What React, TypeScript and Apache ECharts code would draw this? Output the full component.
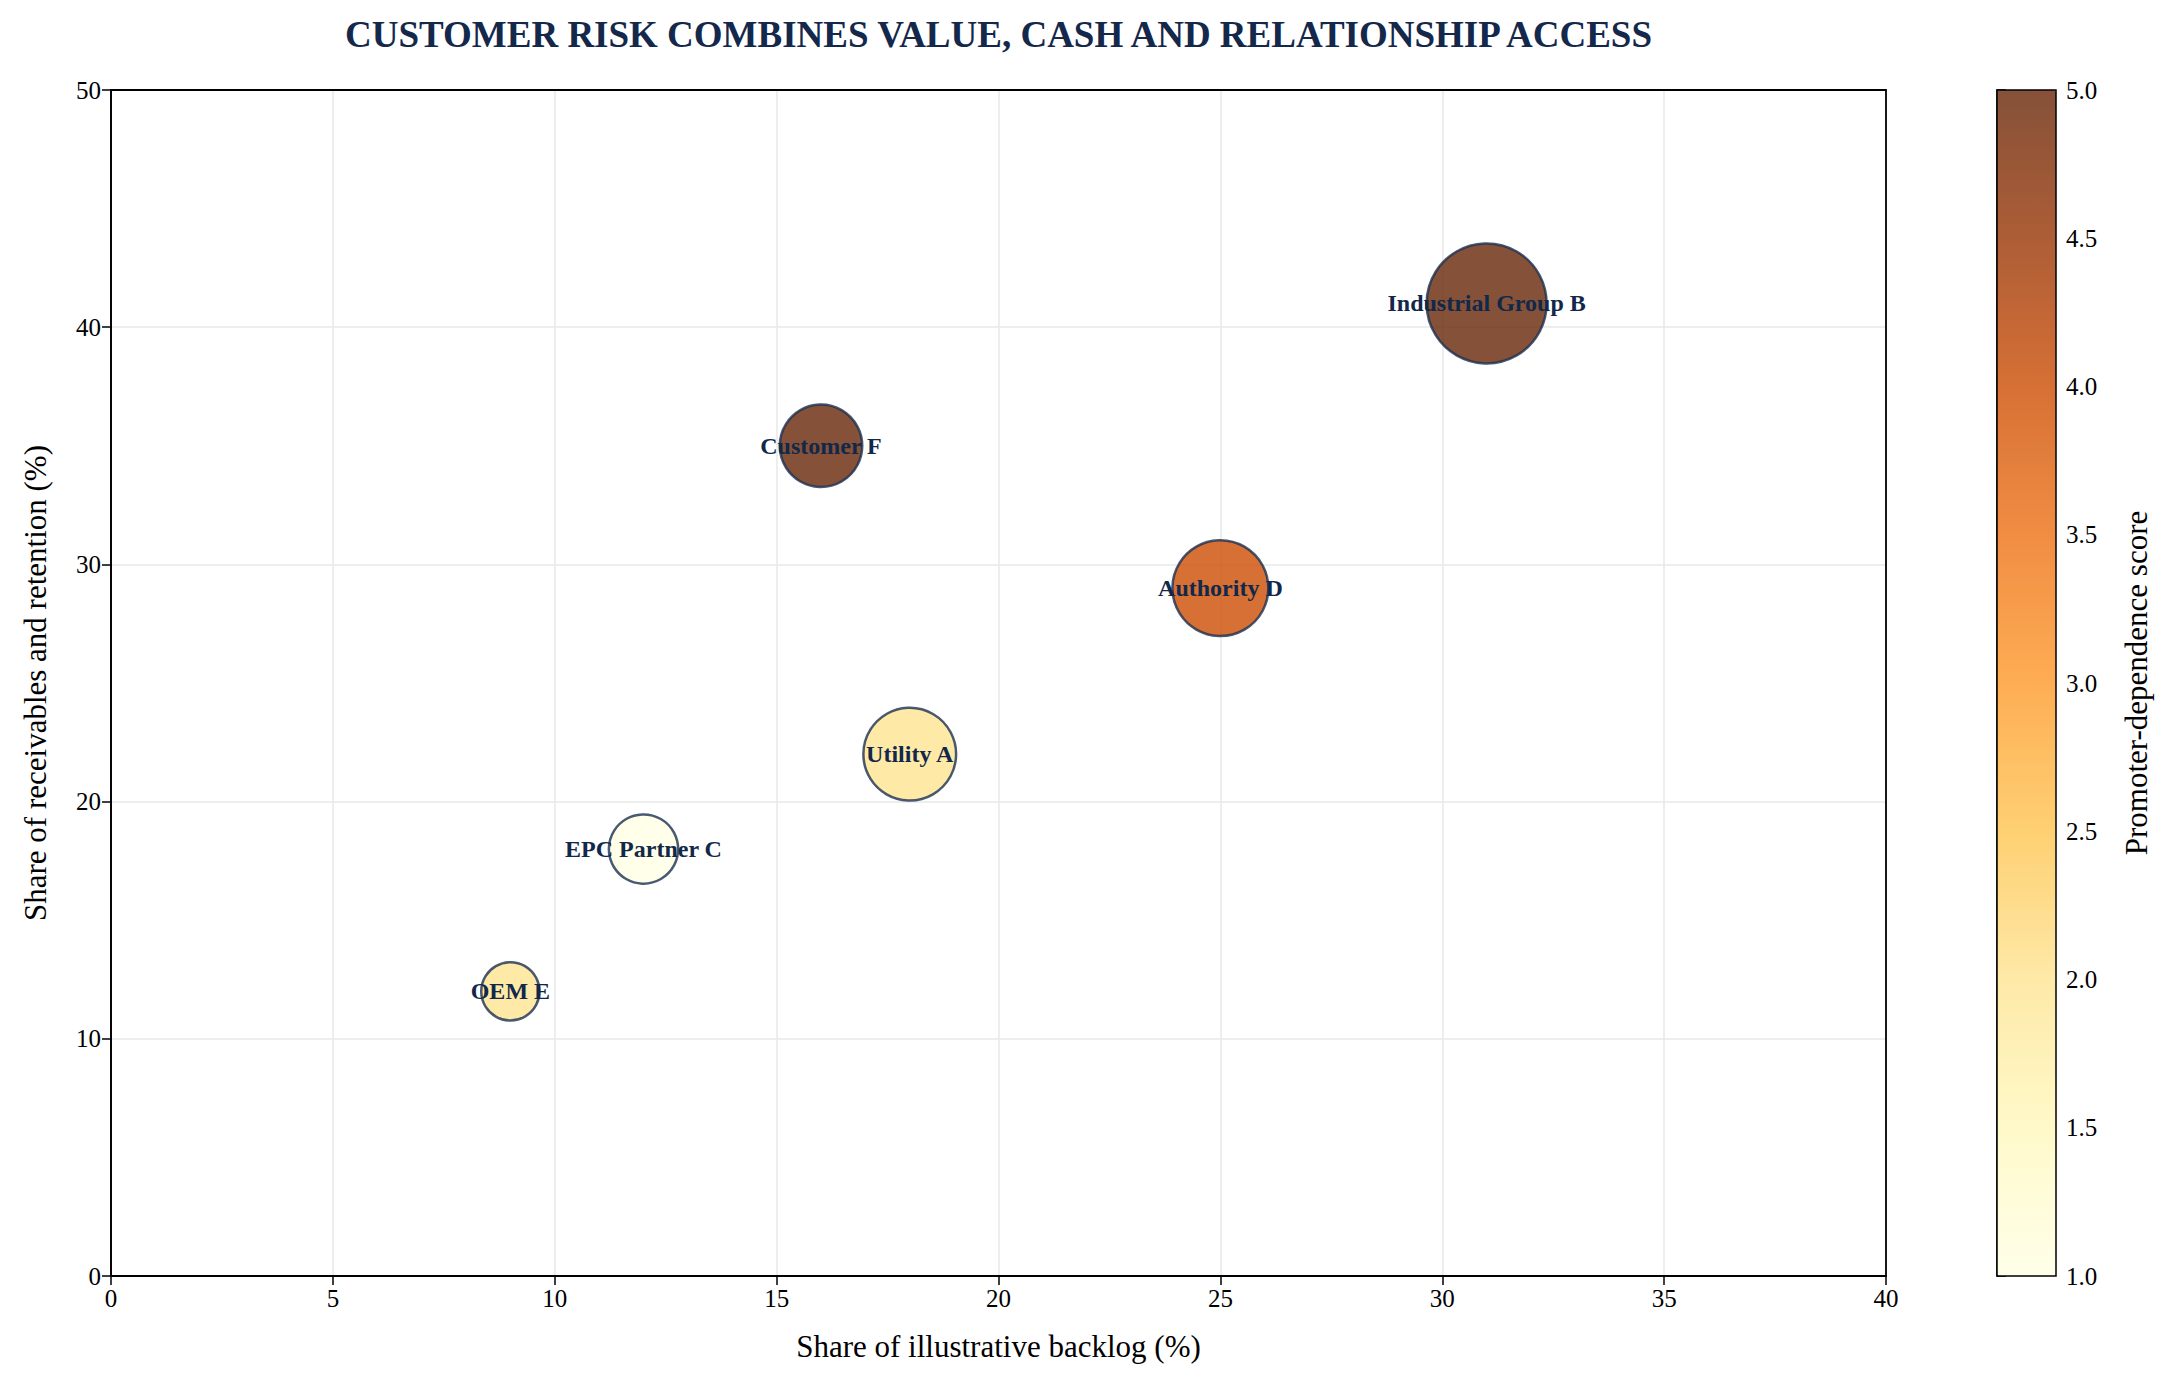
import React, { useEffect, useRef } from "react";
import * as echarts from "echarts";

// ---- data ----
const customers = ["Utility A", "Industrial Group B", "EPC Partner C", "Authority D", "OEM E", "Customer F"];
const backlogShare = [18, 31, 12, 25, 9, 16]; // x, %
const receivablesShare = [22, 41, 18, 29, 12, 35]; // y, %
const promoterScore = [2, 5, 1, 4, 2, 5]; // colour
const relationshipWeight = [21.5, 36, 12, 23, 8.5, 17]; // bubble area
const xTicks = [0, 5, 10, 15, 20, 25, 30, 35, 40];
const yTicks = [0, 10, 20, 30, 40, 50];
const scoreTicks = [1, 1.5, 2, 2.5, 3, 3.5, 4, 4.5, 5];

const TITLE = "CUSTOMER RISK COMBINES VALUE, CASH AND RELATIONSHIP ACCESS";
const X_NAME = "Share of illustrative backlog (%)";
const Y_NAME = "Share of receivables and retention (%)";
const CB_NAME = "Promoter-dependence score";

const YLORBR = ["#ffffe5", "#fff7bc", "#fee391", "#fec44f", "#fe9929", "#ec7014", "#cc4c02", "#993404", "#662506"];
const YLORBR_A80 = ["#FFFFEA", "#FFF9C9", "#FEE9A7", "#FED072", "#FEAD54", "#F08D43", "#D67035", "#AD5D36", "#855138"];

const FONT = "'Liberation Serif', 'Times New Roman', serif";

export default function App() {
  const ref = useRef<HTMLDivElement>(null);
  useEffect(() => {
    if (!ref.current) return;
    const chart = echarts.init(ref.current, undefined, { renderer: "svg" });
    const data = customers.map((name, i) => ({
      name,
      value: [backlogShare[i], receivablesShare[i], promoterScore[i], relationshipWeight[i]],
    }));
    const plotL = 111, plotT = 90, plotR = 1886, plotB = 1276;
    const cbL = 1997, cbW = 59;
    chart.setOption({
      animation: false,
      backgroundColor: "#ffffff",
      textStyle: { fontFamily: FONT },
      title: {
        text: TITLE,
        left: (plotL + plotR) / 2,
        top: 16,
        textAlign: "center",
        padding: 0,
        textStyle: { fontFamily: FONT, fontWeight: "bold", fontSize: 37, color: "#14284b" },
      },
      grid: [
        { left: plotL, top: plotT, width: plotR - plotL, height: plotB - plotT, show: false },
        { left: cbL, top: plotT, width: cbW, height: plotB - plotT, show: false },
      ],
      xAxis: [
        {
          type: "value", gridIndex: 0, min: xTicks[0], max: xTicks[xTicks.length - 1], interval: 5,
          name: X_NAME, nameLocation: "middle", nameGap: 55,
          nameTextStyle: { fontFamily: FONT, fontSize: 31, color: "#000" },
          axisLine: { show: true, onZero: false, lineStyle: { color: "#000", width: 1.5 } },
          axisTick: { show: true, length: 9, lineStyle: { color: "#000", width: 1.5 } },
          axisLabel: { fontFamily: FONT, fontSize: 25, color: "#000", margin: 10 },
          splitLine: { show: true, lineStyle: { color: "#e8e8e8", width: 1.5 } },
        },
        { type: "value", gridIndex: 1, show: false, min: 0, max: 1 },
      ],
      yAxis: [
        {
          type: "value", gridIndex: 0, min: yTicks[0], max: yTicks[yTicks.length - 1], interval: 10,
          name: Y_NAME, nameLocation: "middle", nameGap: 60, nameRotate: 90,
          nameTextStyle: { fontFamily: FONT, fontSize: 31, color: "#000" },
          axisLine: { show: true, onZero: false, lineStyle: { color: "#000", width: 1.5 } },
          axisTick: { show: true, length: 9, lineStyle: { color: "#000", width: 1.5 } },
          axisLabel: { fontFamily: FONT, fontSize: 25, color: "#000", margin: 10 },
          splitLine: { show: true, lineStyle: { color: "#e8e8e8", width: 1.5 } },
        },
        {
          type: "value", gridIndex: 1, position: "right",
          min: scoreTicks[0], max: scoreTicks[scoreTicks.length - 1], interval: 0.5,
          name: CB_NAME, nameLocation: "middle", nameGap: 65, nameRotate: 90,
          nameTextStyle: { fontFamily: FONT, fontSize: 31, color: "#000" },
          axisLine: { show: true, lineStyle: { color: "#000", width: 1.5 } },
          axisTick: { show: true, length: 9, lineStyle: { color: "#000", width: 1.5 } },
          axisLabel: {
            fontFamily: FONT, fontSize: 25, color: "#000", margin: 10,
            formatter: (v: number) => v.toFixed(1),
          },
          splitLine: { show: false },
        },
      ],
      visualMap: {
        type: "continuous",
        min: 1, max: 5,
        dimension: 2,
        seriesIndex: 0,
        orient: "vertical",
        left: cbL, top: plotT,
        itemWidth: cbW, itemHeight: plotB - plotT,
        padding: 0,
        calculable: false,
        hoverLink: false,
        showLabel: false,
        text: null,
        inRange: { color: YLORBR },
        controller: { inRange: { color: YLORBR_A80 } },
      },
      graphic: [
        {
          type: "rect",
          shape: { x: cbL, y: plotT, width: cbW, height: plotB - plotT },
          style: { fill: "none", stroke: "#000", lineWidth: 1.5 },
          z: 100, silent: true,
        },
        {
          type: "rect",
          shape: { x: plotL, y: plotT, width: plotR - plotL, height: plotB - plotT },
          style: { fill: "none", stroke: "#000", lineWidth: 1.8 },
          z: 100, silent: true,
        },
      ],
      series: [
        {
          type: "scatter",
          xAxisIndex: 0, yAxisIndex: 0,
          data,
          symbol: "circle",
          symbolSize: (v: number[]) => 20 * Math.sqrt(v[3]),
          itemStyle: { opacity: 0.8, borderColor: "#1b3050", borderWidth: 2.5 },
          label: {
            show: true,
            position: "inside",
            formatter: (p: any) => p.name,
            fontFamily: FONT, fontWeight: "bold", fontSize: 24, color: "#12284a",
            opacity: 1,
          },
          emphasis: { disabled: true },
          z: 3,
        },
      ],
    });
    return () => chart.dispose();
  }, []);
  return (
    <div
      ref={ref}
      style={{ position: "absolute", left: 0, top: 0, width: 2175, height: 1386 }}
    />
  );
}
